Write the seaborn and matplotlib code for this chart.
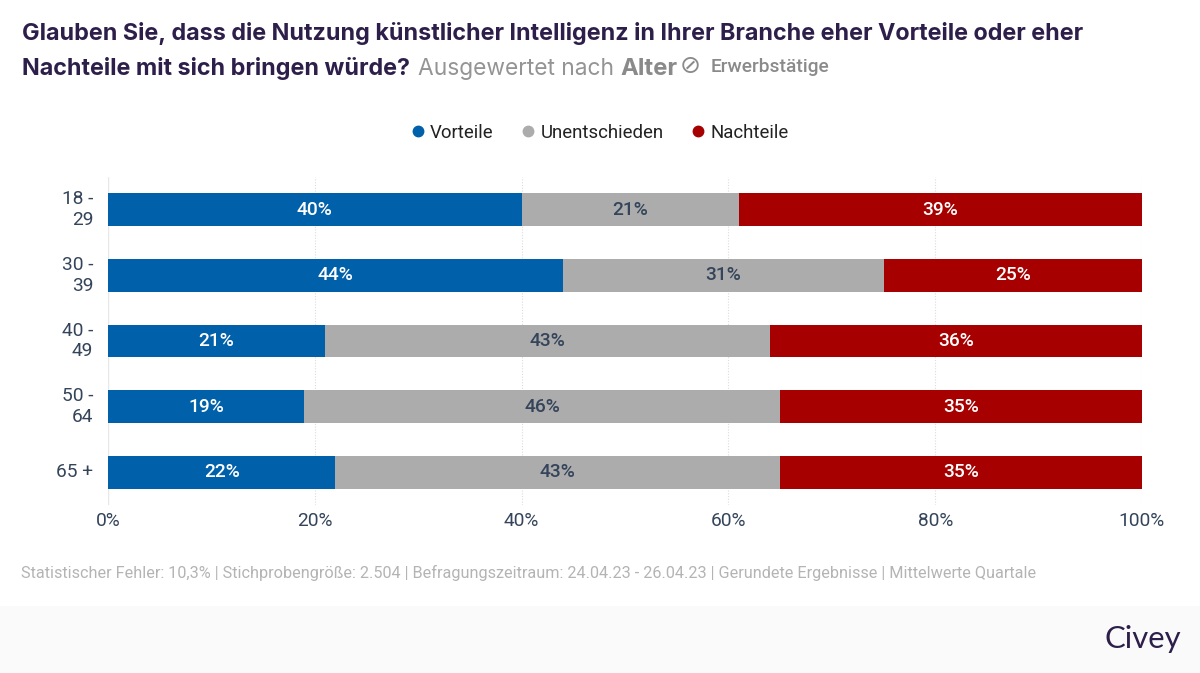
import matplotlib
matplotlib.use("Agg")
import matplotlib.pyplot as plt
from matplotlib.lines import Line2D
from matplotlib.patches import Rectangle
import pandas as pd
import seaborn as sns

# Values
ages = ["18 -\n29", "30 -\n39", "40 -\n49", "50 -\n64", "65 +"]
vorteile = [40, 44, 21, 19, 22]
unentschieden = [21, 31, 43, 46, 43]
nachteile = [39, 25, 36, 35, 35]
x_ticks = [0, 20, 40, 60, 80, 100]

series_names = ["Vorteile", "Unentschieden", "Nachteile"]
series_values = [vorteile, unentschieden, nachteile]
colors = ["#0060aa", "#acacac", "#a70000"]
label_colors = ["white", "#34445a", "white"]

PURPLE = "#2d1f4a"
SLATE = "#34445a"
GREY = "#8a8a8a"

W, H = 1200, 673

sns.set_theme(style="white")
plt.rcParams["font.family"] = ["Roboto", "DejaVu Sans"]

fig = plt.figure(figsize=(W / 100, H / 100), dpi=100)


def px(x, y):
    return x / W, 1 - y / H


# Grey band at the bottom
fig.patches.append(Rectangle((0, 0), 1, (H - 606) / H, transform=fig.transFigure,
                             facecolor="#fafafa", edgecolor="none"))

ax = fig.add_axes([108 / W, 1 - 505 / H, (1142 - 108) / W, (505 - 177) / H])

# Stacked bars, each series starts where the last one ended
left = [0] * len(ages)
for name, values, color, lab_color in zip(series_names, series_values, colors, label_colors):
    df = pd.DataFrame({"age": ages, "value": values})
    before = len(ax.patches)
    sns.barplot(data=df, y="age", x="value", color=color, saturation=1, width=0.5,
                left=left, ax=ax, zorder=3, linewidth=0)
    for bar, v in zip(ax.patches[before:], values):
        ax.text(bar.get_x() + bar.get_width() / 2, bar.get_y() + bar.get_height() / 2, f"{v}%",
                ha="center", va="center", color=lab_color, fontsize=13.8,
                fontweight="medium", zorder=4)
    left = [a + b for a, b in zip(left, values)]

ax.set_xlim(0, 100)
ax.set_xticks(x_ticks)
ax.set_xticklabels([f"{t}%" for t in x_ticks])
ax.set_xlabel("")
ax.set_ylabel("")
ax.tick_params(axis="x", length=0, pad=5, labelsize=13.8, labelcolor=SLATE)
ax.tick_params(axis="y", length=0, pad=10.5, labelsize=13.8, labelcolor=SLATE)
for lab in ax.get_yticklabels():
    lab.set_linespacing(1.2)
    lab.set_multialignment("right")
    lab.set_verticalalignment("center")
sns.despine(ax=ax, left=True, bottom=True, top=True, right=True)
ax.grid(axis="x", color="#dcdcdc", linestyle=(0, (1, 1.5)), linewidth=0.8, zorder=0)
ax.set_axisbelow(True)
ax.axvline(0, color="#e8e8e8", linewidth=1, zorder=1)

# Legend
handles = [Line2D([], [], marker="o", linestyle="none", markersize=7.5, color=c) for c in colors]
fig.legend(handles, series_names, loc="center", bbox_to_anchor=px(600, 133), ncol=3, frameon=False,
           fontsize=13.4, labelcolor="#222222", handlelength=0.7, handletextpad=0.3, columnspacing=1.52)

# Title lines
title_font = "Inter"
fig.text(*px(22, 40), "Glauben Sie, dass die Nutzung künstlicher Intelligenz in Ihrer Branche eher Vorteile oder eher",
         family=title_font, fontweight="bold", fontsize=16.8, color=PURPLE)
fig.text(*px(22, 75), "Nachteile mit sich bringen würde?",
         family=title_font, fontweight="bold", fontsize=16.8, color=PURPLE)
fig.text(*px(418, 75), "Ausgewertet nach", family=title_font, fontweight="normal", fontsize=16.4, color="#949494")
fig.text(*px(620, 75), "Alter", family=title_font, fontweight="bold", fontsize=17.2, color=GREY)
fig.text(*px(680, 73), "⊘", family="DejaVu Sans", fontsize=18, color=GREY)
fig.text(*px(711, 72), "Erwerbstätige", fontweight="medium", fontsize=13.8, color=GREY)

# Footnote and logo
fig.text(*px(21, 578), "Statistischer Fehler: 10,3% | Stichprobengröße: 2.504 | Befragungszeitraum: 24.04.23 - 26.04.23 | "
         "Gerundete Ergebnisse | Mittelwerte Quartale", fontsize=11.7, color="#b4b4b4")
fig.text(*px(1105, 648), "Civey", family="Lato", fontsize=22.3, color=PURPLE)

fig.savefig("out.png", dpi=100)
